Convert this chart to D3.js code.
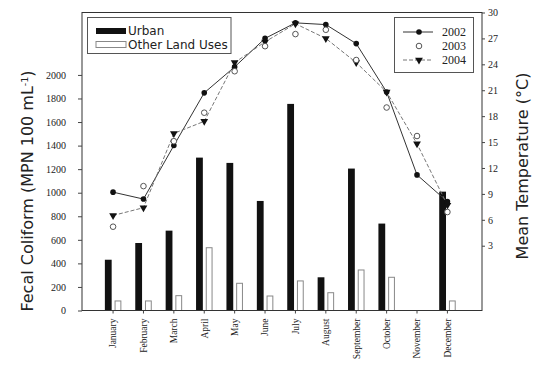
<!DOCTYPE html>
<html>
<head>
<meta charset="utf-8">
<script src="https://cdn.jsdelivr.net/npm/d3@7/dist/d3.min.js"></script>
<style>
  html, body { margin: 0; padding: 0; background: #fff; }
  svg { display: block; }
</style>
</head>
<body>
<svg id="chart" width="538" height="366"></svg>
<script>
// Monthly fecal coliform (bars, left axis) and mean temperature (lines, right axis)
const months = ["January", "February", "March", "April", "May", "June",
                "July", "August", "September", "October", "November", "December"];
const urban = [431, 573, 678, 1298, 1253, 930, 1754, 282, 1205, 738, null, 1009];
const otherUses = [81, 81, 126, 533, 231, 123, 251, 151, 344, 282, null, 81];
const temp2002 = [9.2, 8.4, 14.6, 20.7, 23.7, 27.0, 28.8, 28.6, 26.4, 20.8, 11.2, 8.1];
const temp2003 = [5.2, 9.9, 15.1, 18.4, 23.2, 26.1, 27.5, 28.0, 24.5, 19.0, 15.7, 6.9];
const temp2004 = [6.5, 7.4, 16.0, 17.4, 24.2, 26.6, 28.7, 27.0, 24.2, 20.8, 14.8, 7.7];
const coliformTicks = [0, 200, 400, 600, 800, 1000, 1200, 1400, 1600, 1800, 2000];
const tempTicks = [3, 6, 9, 12, 15, 18, 21, 24, 27, 30];
const barSeries = ["Urban", "Other Land Uses"];
const years = ["2002", "2003", "2004"];

const svg = d3.select("#chart");
const L = 82, R = 482, T = 12.5, B = 310.5;

const x = d3.scaleBand().domain(months).range([L, R])
  .paddingInner(0).paddingOuter(0.58).align(0.45);
const xSub = d3.scaleBand().domain(barSeries).range([7, 23.5]).paddingInner(0.3);
const yLeft = d3.scaleLinear().domain([0, 2530]).range([B, T]);
const yRight = d3.scaleLinear().domain([-4.5, 30]).range([B, T]);
const cx = m => x(m) + x.bandwidth() / 2;

const serif = "'Liberation Serif', 'Times New Roman', serif";
const sans = "'DejaVu Sans', Verdana, sans-serif";

// Bars
const barData = [];
months.forEach((m, i) => {
  if (urban[i] != null) barData.push({ m, s: "Urban", v: urban[i] });
  if (otherUses[i] != null) barData.push({ m, s: "Other Land Uses", v: otherUses[i] });
});
svg.append("g").selectAll("rect").data(barData).join("rect")
  .attr("x", d => x(d.m) + xSub(d.s) + (d.s === "Urban" ? 0 : 0.5))
  .attr("y", d => yLeft(d.v))
  .attr("width", d => d.s === "Urban" ? xSub.bandwidth() : xSub.bandwidth() - 1)
  .attr("height", d => B - yLeft(d.v))
  .attr("fill", d => d.s === "Urban" ? "#111" : "#fff")
  .attr("stroke", d => d.s === "Urban" ? "none" : "#888")
  .attr("stroke-width", 1);

// Temperature lines
const line = d3.line().x((d, i) => cx(months[i])).y(d => yRight(d));
svg.append("path").datum(temp2002).attr("d", line)
  .attr("fill", "none").attr("stroke", "#333").attr("stroke-width", 1);
svg.append("path").datum(temp2004).attr("d", line)
  .attr("fill", "none").attr("stroke", "#777").attr("stroke-width", 1)
  .attr("stroke-dasharray", "4,2");

const tri = d3.symbol().type(d3.symbolTriangle).size(26);
svg.append("g").selectAll("path").data(temp2004).join("path")
  .attr("d", tri)
  .attr("transform", (d, i) => `translate(${cx(months[i])},${yRight(d)}) rotate(180)`)
  .attr("fill", "#111");
svg.append("g").selectAll("circle").data(temp2002).join("circle")
  .attr("cx", (d, i) => cx(months[i])).attr("cy", d => yRight(d)).attr("r", 2.8)
  .attr("fill", "#111");
svg.append("g").selectAll("circle").data(temp2003).join("circle")
  .attr("cx", (d, i) => cx(months[i])).attr("cy", d => yRight(d)).attr("r", 2.8)
  .attr("fill", "#fff").attr("stroke", "#555").attr("stroke-width", 1);

// Frame
svg.append("rect").attr("x", L).attr("y", T).attr("width", R - L).attr("height", B - T)
  .attr("fill", "none").attr("stroke", "#333").attr("stroke-width", 1);

// Axes
const axL = svg.append("g").attr("transform", `translate(${L},0)`)
  .call(d3.axisLeft(yLeft).tickValues(coliformTicks).tickSize(4).tickPadding(12).tickFormat(d3.format("d")));
const axR = svg.append("g").attr("transform", `translate(${R},0)`)
  .call(d3.axisRight(yRight).tickValues(tempTicks).tickSize(3).tickPadding(3));
const axB = svg.append("g").attr("transform", `translate(0,${B})`)
  .call(d3.axisBottom(x).tickSize(3).tickPadding(4));
[axL, axR, axB].forEach(g => {
  g.select(".domain").remove();
  g.selectAll(".tick line").attr("stroke", "#444");
  g.selectAll("text").attr("font-family", serif).attr("font-size", 10).attr("fill", "#222");
});
axB.selectAll("text")
  .attr("transform", "rotate(-90)")
  .attr("text-anchor", "end")
  .attr("x", -8).attr("y", 0).attr("dy", "0.35em")
  .attr("font-size", 9.5);

// Axis titles
const leftTitle = svg.append("text")
  .attr("transform", `translate(27,191) rotate(-90)`)
  .attr("text-anchor", "middle").attr("dy", "0.35em")
  .attr("font-family", sans).attr("font-size", 16).attr("fill", "#222");
leftTitle.append("tspan").text("Fecal Coliform (MPN 100 mL");
leftTitle.append("tspan").attr("font-size", 9.5).attr("baseline-shift", "super").text("-1");
leftTitle.append("tspan").text(")");

svg.append("text")
  .attr("transform", `translate(522,166) rotate(-90)`)
  .attr("text-anchor", "middle").attr("dy", "0.35em")
  .attr("font-family", sans).attr("font-size", 16).attr("fill", "#222")
  .text("Mean Temperature (°C)");

// Bar legend
const lg1 = svg.append("g");
lg1.append("rect").attr("x", 87.5).attr("y", 17.5).attr("width", 143.5).attr("height", 36)
  .attr("fill", "#fff").attr("stroke", "#555").attr("stroke-width", 1);
barSeries.forEach((s, i) => {
  const yy = 31 + i * 13.5;
  lg1.append("rect").attr("x", 96).attr("y", yy - 3).attr("width", 30).attr("height", 6)
    .attr("fill", i === 0 ? "#111" : "#fff")
    .attr("stroke", i === 0 ? "none" : "#888");
  lg1.append("text").attr("x", 128).attr("y", yy).attr("dy", "0.35em")
    .attr("font-family", sans).attr("font-size", 12).attr("fill", "#222").text(s);
});

// Year legend
const lg2 = svg.append("g");
lg2.append("rect").attr("x", 394.5).attr("y", 17.5).attr("width", 79).attr("height", 55)
  .attr("fill", "#fff").attr("stroke", "#555").attr("stroke-width", 1);
years.forEach((yr, i) => {
  const yy = 32 + i * 14;
  if (yr === "2002") {
    lg2.append("line").attr("x1", 403).attr("x2", 433).attr("y1", yy).attr("y2", yy)
      .attr("stroke", "#333");
    lg2.append("circle").attr("cx", 419).attr("cy", yy).attr("r", 2.8).attr("fill", "#111");
  } else if (yr === "2003") {
    lg2.append("circle").attr("cx", 419).attr("cy", yy).attr("r", 2.8)
      .attr("fill", "#fff").attr("stroke", "#555");
  } else {
    lg2.append("line").attr("x1", 403).attr("x2", 433).attr("y1", yy).attr("y2", yy)
      .attr("stroke", "#777").attr("stroke-dasharray", "4,2");
    lg2.append("path").attr("d", tri).attr("transform", `translate(419,${yy}) rotate(180)`)
      .attr("fill", "#111");
  }
  lg2.append("text").attr("x", 442).attr("y", yy).attr("dy", "0.35em")
    .attr("font-family", serif).attr("font-size", 12).attr("fill", "#222").text(yr);
});
</script>
</body>
</html>
